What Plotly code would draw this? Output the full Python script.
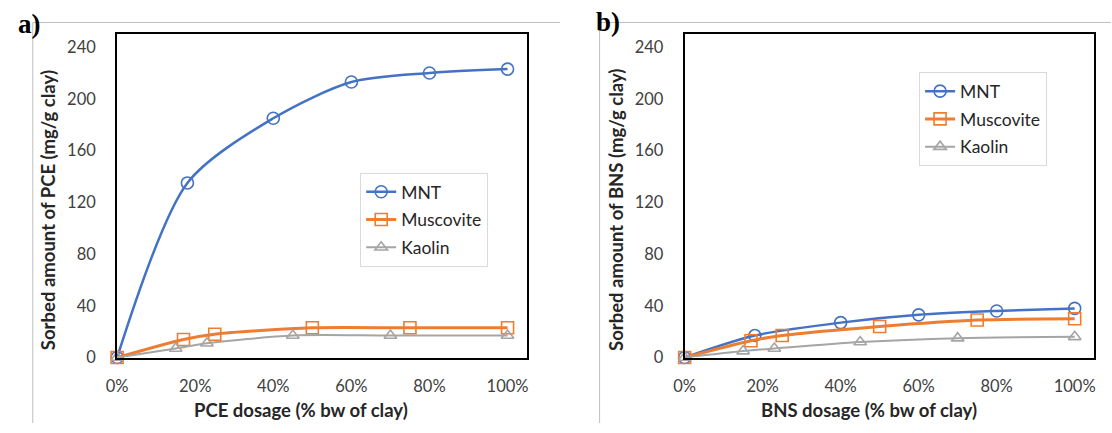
import plotly.graph_objects as go

# ---- data: sorbed amount (mg/g clay) versus admixture dosage (fraction of clay mass)
# Panel a) PCE
pce_mnt_x = [0, 0.18, 0.40, 0.60, 0.80, 1.00]
pce_mnt_y = [0, 135, 185, 213, 220, 223]
pce_mus_x = [0, 0.17, 0.25, 0.50, 0.75, 1.00]
pce_mus_y = [0, 14, 18, 23, 23, 23]
pce_kao_x = [0, 0.15, 0.23, 0.45, 0.70, 1.00]
pce_kao_y = [0, 7, 11, 17, 17, 17]

# Panel b) BNS
bns_mnt_x = [0, 0.18, 0.40, 0.60, 0.80, 1.00]
bns_mnt_y = [0, 17, 27, 33, 36, 38]
bns_mus_x = [0, 0.17, 0.25, 0.50, 0.75, 1.00]
bns_mus_y = [0, 13, 17, 24, 29, 30]
bns_kao_x = [0, 0.15, 0.23, 0.45, 0.70, 1.00]
bns_kao_y = [0, 5, 7, 12, 15, 16]

x_ticks = [0, 0.2, 0.4, 0.6, 0.8, 1.0]
y_ticks = [0, 40, 80, 120, 160, 200, 240]

BLUE = "#4472C4"
ORANGE = "#ED7D31"
GRAY = "#A5A5A5"
FONT = "Lato"

W, H = 1112, 433


def px_x(p):
    return p / W


def px_y(p):
    return 1 - p / H


fig = go.Figure()

series = [
    ("MNT", "circle-open", BLUE, 2.5, 12),
    ("Muscovite", "square-open", ORANGE, 3, 12),
    ("Kaolin", "triangle-up-open", GRAY, 2, 11),
]

panels = [
    ("x", "y", "legend",
     [(pce_mnt_x, pce_mnt_y), (pce_mus_x, pce_mus_y), (pce_kao_x, pce_kao_y)]),
    ("x2", "y2", "legend2",
     [(bns_mnt_x, bns_mnt_y), (bns_mus_x, bns_mus_y), (bns_kao_x, bns_kao_y)]),
]

for xa, ya, leg, data in panels:
    for (name, sym, col, lw, ms), (xs, ys) in zip(series, data):
        fig.add_trace(go.Scatter(
            x=xs, y=ys, name=name, xaxis=xa, yaxis=ya, legend=leg,
            legendgroup=leg + name,
            mode="lines+markers", cliponaxis=False,
            line=dict(color=col, width=lw, shape="spline", smoothing=0.8),
            marker=dict(symbol=sym, size=ms, color=col, line=dict(width=1.6, color=col)),
        ))

axis_common = dict(
    showgrid=False, zeroline=False, showline=True, mirror=True,
    linecolor="black", linewidth=2, ticks="",
    tickfont=dict(family=FONT, size=16.5, color="#404040"),
)

# plot-area positions (pixels) of the two panels
a_left, a_right = 107.3, 521.7
b_left, b_right = 681.0, 1095.0
top, bottom = 35.0, 366.0

legend_style = dict(xanchor="left", yanchor="top", bgcolor="white",
                    bordercolor="#D9D9D9", borderwidth=1, itemwidth=30,
                    tracegroupgap=2,
                    font=dict(family=FONT, size=17.5, color="#262626"))

fig.update_layout(
    width=W, height=H, margin=dict(l=0, r=0, t=0, b=0),
    paper_bgcolor="white", plot_bgcolor="white",
    xaxis=dict(domain=[px_x(a_left), px_x(a_right)], range=[0, 1.05],
               tickvals=x_ticks, tickformat=".0%", anchor="y",
               ticklabelstandoff=13, **axis_common),
    yaxis=dict(domain=[px_y(bottom), px_y(top)], range=[0, 250],
               tickvals=y_ticks, anchor="x", ticklabelstandoff=16, **axis_common),
    xaxis2=dict(domain=[px_x(b_left), px_x(b_right)], range=[0, 1.05],
                tickvals=x_ticks, tickformat=".0%", anchor="y2",
                ticklabelstandoff=13, **axis_common),
    yaxis2=dict(domain=[px_y(bottom), px_y(top)], range=[0, 250],
                tickvals=y_ticks, anchor="x2", ticklabelstandoff=16, **axis_common),
    legend=dict(x=px_x(353), y=px_y(177), **legend_style),
    legend2=dict(x=px_x(918), y=px_y(74), **legend_style),
)

title_font = dict(family=FONT, size=18.5, color="#262626")
label_font = dict(family="Liberation Serif", size=27, color="black")

annotations = [
    # x-axis titles
    dict(text="<b>PCE dosage (% bw of clay)</b>", x=px_x(293.4), y=px_y(420),
         font=title_font, xanchor="center"),
    dict(text="<b>BNS dosage (% bw of clay)</b>", x=px_x(867), y=px_y(420),
         font=title_font, xanchor="center"),
    # y-axis titles
    dict(text="<b>Sorbed amount of PCE (mg/g clay)</b>", x=px_x(37.5), y=px_y(215),
         textangle=-90, font=title_font, xanchor="center"),
    dict(text="<b>Sorbed amount of BNS (mg/g clay)</b>", x=px_x(611.5), y=px_y(215),
         textangle=-90, font=title_font, xanchor="center"),
    # panel labels
    dict(text="<b>a)</b>", x=px_x(6), y=px_y(25), font=label_font, xanchor="left"),
    dict(text="<b>b)</b>", x=px_x(590), y=px_y(23), font=label_font, xanchor="left"),
]
for a in annotations:
    a.update(xref="paper", yref="paper", showarrow=False, yanchor="middle",
             borderpad=0)
fig.update_layout(annotations=annotations)

# thin chart-area borders around each panel
border = dict(type="line", xref="paper", yref="paper",
              line=dict(color="#BFBFBF", width=1), layer="below")
fig.update_layout(shapes=[
    dict(x0=px_x(22), x1=px_x(555), y0=px_y(23), y1=px_y(23), **border),
    dict(x0=px_x(22), x1=px_x(22), y0=px_y(23), y1=0, **border),
    dict(x0=px_x(595), x1=1, y0=px_y(23), y1=px_y(23), **border),
    dict(x0=px_x(595), x1=px_x(595), y0=px_y(23), y1=0, **border),
])

fig.write_html("out.html")
